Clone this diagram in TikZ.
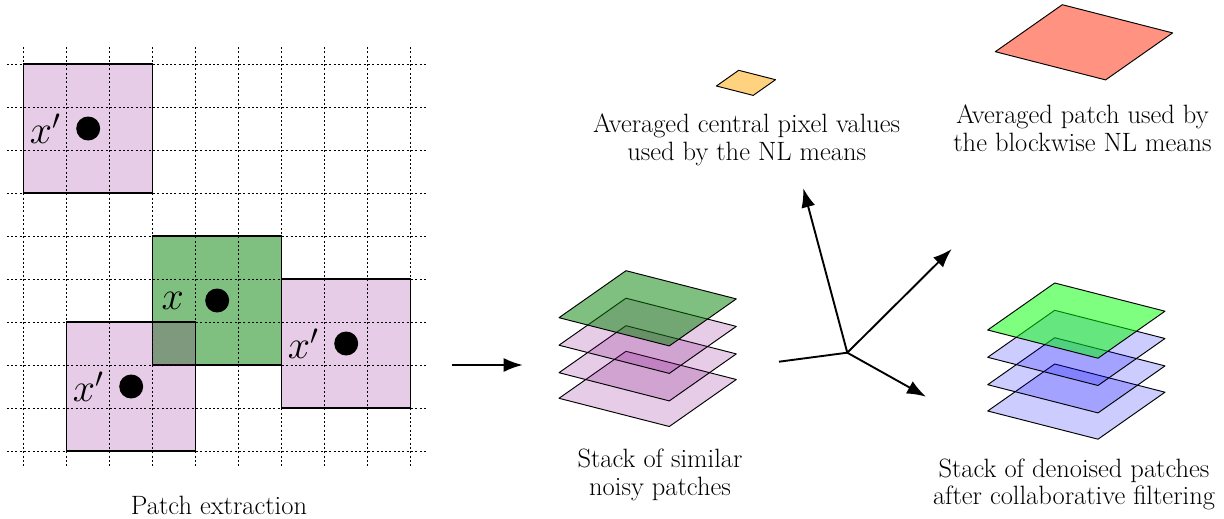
\RequirePackage{fix-cm}
\documentclass[tikz,border=0pt]{standalone}
\usepackage{fontspec}
\usetikzlibrary{arrows.meta}
\definecolor{salmonc}{RGB}{255,146,128}
\definecolor{orangec}{RGB}{255,210,128}
\begin{document}
\begin{tikzpicture}[x=1pt,y=-1pt,
  patchpink/.style={fill=violet,fill opacity=0.2,draw=black,line width=1.2pt},
  patchgreen/.style={fill=green!50!black,fill opacity=0.5,draw=black,line width=1.2pt},
  layerpink/.style={fill=violet,fill opacity=0.2,draw=black,line width=0.95pt,line join=round},
  layergreen/.style={fill=green!50!black,fill opacity=0.5,draw=black,line width=0.95pt,line join=round},
  layerblue/.style={fill=blue,fill opacity=0.2,draw=black,line width=0.95pt,line join=round},
  layerlime/.style={fill=green,fill opacity=0.5,draw=black,line width=0.95pt,line join=round},
  gridline/.style={line width=0.95pt,dash pattern=on 2pt off 2.3pt},
  pdot/.style={circle,fill=black,inner sep=0pt,minimum size=24pt},
  mlabel/.style={font=\fontsize{40}{48}\selectfont,inner sep=0pt},
  caption/.style={font=\fontsize{26.5}{27.8}\selectfont,align=center,inner sep=0pt},
  flow/.style={line width=1.9pt,-{Latex[length=19pt,width=14pt]}},
]
\useasboundingbox (0,0) rectangle (1224,519);

% patches
\path[patchgreen] (152.7,236) rectangle (281.7,365);
\path[patchpink] (23.7,64) rectangle (152.7,193);
\path[patchpink] (66.7,322) rectangle (195.7,451);
\path[patchpink] (281.7,279) rectangle (410.7,408);

% grid
\foreach \k in {0,...,9}{
  \draw[gridline] (6.7,{64+43*\k}) -- (427,{64+43*\k});
  \draw[gridline] ({23.7+43*\k},47) -- ({23.7+43*\k},467);
}

% central pixels and labels
\node[pdot] (d1) at (88.2,128.5) {};
\node[mlabel] (l1) at (45.2,128.5) {$x'$};
\node[pdot] (d2) at (217.2,300.5) {};
\node[mlabel] (l2) at (172.7,300.5) {$x$};
\node[pdot] (d3) at (131.2,386.5) {};
\node[mlabel] (l3) at (88.2,386.5) {$x'$};
\node[pdot] (d4) at (346.2,343.5) {};
\node[mlabel] (l4) at (303.2,343.5) {$x'$};

% middle stack
\foreach \ty in {351.3,325.7,298.2}{
  \draw[layerpink] (626,\ty) -- ++(-67,47) -- ++(110.3,28.2) -- ++(67,-47) -- cycle;
}
\draw[layergreen] (626,270.7) -- ++(-67,47) -- ++(110.3,28.2) -- ++(67,-47) -- cycle;

% right stack
\foreach \ty in {364,337.7,310.3}{
  \draw[layerblue] (1054.7,\ty) -- ++(-67,47) -- ++(110.3,28.2) -- ++(67,-47) -- cycle;
}
\draw[layerlime] (1054.7,283) -- ++(-67,47) -- ++(110.3,28.2) -- ++(67,-47) -- cycle;

% averaged patch and pixel
\draw[fill=salmonc,line width=0.95pt,line join=round] (1062.3,4.7) -- ++(-67,47) -- ++(110.3,28.2) -- ++(67,-47) -- cycle;
\draw[fill=orangec,line width=0.95pt,line join=round] (738.7,70.3) -- ++(-22.3,15.7) -- ++(36.8,9.4) -- ++(22.3,-15.7) -- cycle;

% arrows
\coordinate (h0) at (452.3,365);
\coordinate (h1) at (522.7,365);
\coordinate (s0) at (779,361.7);
\coordinate (hub) at (847.3,352.7);
\coordinate (e1) at (803.3,188.3);
\coordinate (e2) at (951.7,249);
\coordinate (e3) at (926,396.7);
\draw[flow] (h0) -- (h1);
\draw[line width=1.9pt] (s0) -- (hub);
\draw[flow] (hub) -- (e1);
\draw[flow] (hub) -- (e2);
\draw[flow] (hub) -- (e3);

% captions
\node[caption,anchor=base] (tpatch) at (219,514) {Patch extraction};
\node[caption,anchor=north] (tavgpix) at (746.7,113.9) {Averaged central pixel values\\used by the NL means};
\node[caption,anchor=north] (tavgpatch) at (1082.5,104.9) {Averaged patch used by\\the blockwise NL means};
\node[caption,anchor=north] (tnoisy) at (660,448.6) {Stack of similar\\noisy patches};
\node[caption,anchor=north] (tden) at (1074,458.3) {Stack of denoised patches\\after collaborative filtering};
\end{tikzpicture}
\end{document}
